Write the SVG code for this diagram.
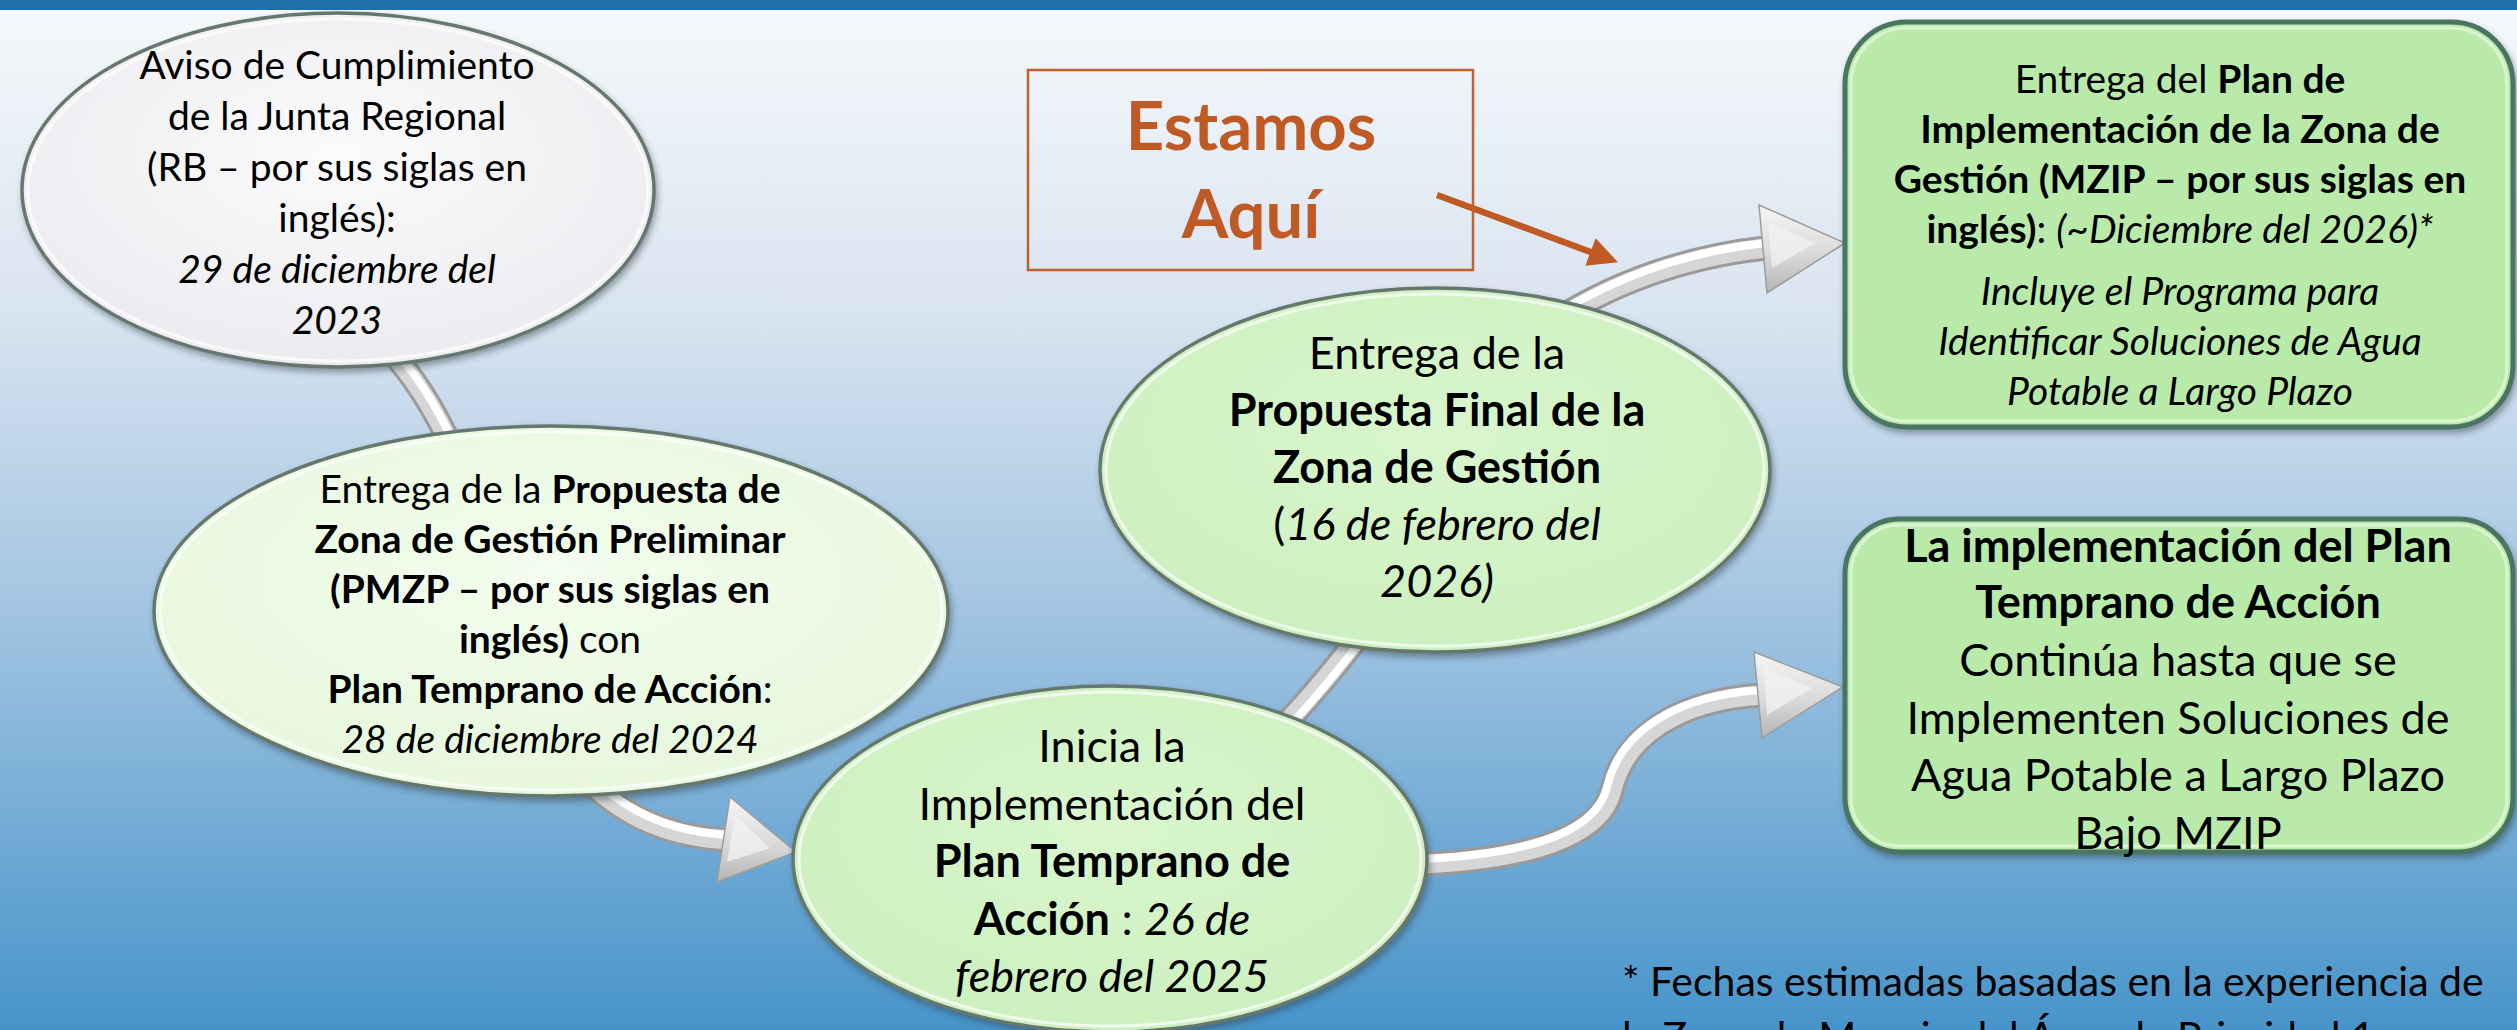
<svg xmlns="http://www.w3.org/2000/svg" width="2517" height="1030" viewBox="0 0 2517 1030">
  <style>
    text { font-family: Lato, "Open Sans", "Liberation Sans", sans-serif; fill: #000; text-anchor: middle; }
    .b { font-weight: bold; }
    .i { font-style: italic; }
    .s39 { font-size: 39px; }
    .s45 { font-size: 45px; }
    .tube-o { fill: none; stroke: #9a9a9a; stroke-width: 25; stroke-linecap: butt; }
    .tube-m { fill: none; stroke: #d6d6d6; stroke-width: 19; stroke-linecap: butt; }
    .tube-h { fill: none; stroke: #ffffff; stroke-width: 8; stroke-linecap: butt; }
    .head { fill: url(#headGrad); stroke: #9c9c9c; stroke-width: 1.5; }
    .head-in { fill: #f1f1f1; opacity: 0.8; }
    .ell { stroke: #66776f; stroke-width: 3.5; filter: url(#shadow); }
    .ell-hl { fill: none; stroke: #ffffff; stroke-width: 3; opacity: 0.7; }
    .box { fill: #b9eaa9; stroke: #4b7463; stroke-width: 5; filter: url(#shadow); }
    .box-hl { fill: none; stroke: #e2f8da; stroke-width: 3; opacity: 0.8; }
    .here { fill: #bf5a24; font-size: 67px; }
    .note { font-size: 41px; text-anchor: start; }
  </style>
  <defs>
    <linearGradient id="bg" x1="0" y1="10" x2="0" y2="1030" gradientUnits="userSpaceOnUse">
      <stop offset="0" stop-color="#f5f8fb"/>
      <stop offset="0.3" stop-color="#d8e4f0"/>
      <stop offset="0.6" stop-color="#a0c3e1"/>
      <stop offset="1" stop-color="#4794ca"/>
    </linearGradient>
    <radialGradient id="gA" cx="0.5" cy="0.4" r="0.6">
      <stop offset="0" stop-color="#fbfafc"/>
      <stop offset="1" stop-color="#ecebef"/>
    </radialGradient>
    <radialGradient id="gB" cx="0.5" cy="0.4" r="0.6">
      <stop offset="0" stop-color="#f3fdee"/>
      <stop offset="1" stop-color="#e6f8dc"/>
    </radialGradient>
    <radialGradient id="gC" cx="0.5" cy="0.4" r="0.6">
      <stop offset="0" stop-color="#d9f6cd"/>
      <stop offset="1" stop-color="#cdf0bf"/>
    </radialGradient>
    <linearGradient id="headGrad" x1="0" y1="0" x2="0" y2="1">
      <stop offset="0" stop-color="#f6f6f6"/>
      <stop offset="0.55" stop-color="#dadada"/>
      <stop offset="1" stop-color="#b5b5b5"/>
    </linearGradient>
    <filter id="shadow" x="-10%" y="-10%" width="120%" height="125%">
      <feDropShadow dx="2" dy="4" stdDeviation="3" flood-color="#2a3a40" flood-opacity="0.45"/>
    </filter>
    <marker id="orangeHead" viewBox="0 0 10 10" refX="2" refY="5" markerWidth="5" markerHeight="4.5" orient="auto" markerUnits="strokeWidth">
      <path d="M0,0 L10,5 L0,10 z" fill="#bf5a24"/>
    </marker>
  </defs>

  <!-- background -->
  <rect x="0" y="0" width="2517" height="1030" fill="url(#bg)"/>
  <rect x="0" y="0" width="2517" height="10" fill="#1f70a9"/>

  <!-- connectors -->
  <g id="connectors">
    <g id="c-A-B">
      <path class="tube-o" d="M380,340 Q425,385 455,455"/>
      <path class="tube-m" d="M380,340 Q425,385 455,455"/>
      <path class="tube-h" d="M383,338 Q428,383 458,453"/>
    </g>
    <g id="c-B-C">
      <path class="tube-o" d="M570,760 Q630,838 735,840"/>
      <path class="tube-m" d="M570,760 Q630,838 735,840"/>
      <path class="tube-h" d="M574,757 Q634,833 735,835"/>
      <polygon class="head" points="730,797 796,852 717,882"/>
      <polygon class="head-in" points="735,815 770,848 727,862"/>
    </g>
    <g id="c-C-D">
      <path class="tube-o" d="M1265,745 Q1320,690 1375,615"/>
      <path class="tube-m" d="M1265,745 Q1320,690 1375,615"/>
      <path class="tube-h" d="M1268,748 Q1323,693 1378,618"/>
    </g>
    <g id="c-D-E">
      <path class="tube-o" d="M1540,330 Q1640,262 1765,248"/>
      <path class="tube-m" d="M1540,330 Q1640,262 1765,248"/>
      <path class="tube-h" d="M1540,325 Q1640,257 1765,243"/>
      <polygon class="head" points="1759,205 1845,243 1767,293"/>
      <polygon class="head-in" points="1768,222 1815,243 1772,268"/>
    </g>
    <g id="c-C-F">
      <path class="tube-o" d="M1400,865 C1520,862 1600,840 1612,790 C1625,735 1680,700 1762,695"/>
      <path class="tube-m" d="M1400,865 C1520,862 1600,840 1612,790 C1625,735 1680,700 1762,695"/>
      <path class="tube-h" d="M1400,860 C1518,857 1595,836 1607,787 C1620,731 1677,695 1762,690"/>
      <polygon class="head" points="1754,652 1843,687 1762,738"/>
      <polygon class="head-in" points="1764,668 1812,688 1767,715"/>
    </g>
    <g id="c-here">
      <line x1="1437" y1="195" x2="1596" y2="254" stroke="#bf5a24" stroke-width="6.5" marker-end="url(#orangeHead)"/>
    </g>
  </g>

  <!-- node A -->
  <g id="node-aviso">
    <ellipse class="ell" cx="338" cy="190" rx="316" ry="177" fill="url(#gA)" stroke="#7d7d83"/>
    <ellipse class="ell-hl" cx="338" cy="190" rx="310" ry="171"/>
    <text class="s39" x="337" y="79">Aviso de Cumplimiento</text>
    <text class="s39" x="337" y="130">de la Junta Regional</text>
    <text class="s39" x="337" y="181">(RB – por sus siglas en</text>
    <text class="s39" x="337" y="232">inglés):</text>
    <text class="s39 i" x="337" y="283">29 de diciembre del</text>
    <text class="s39 i" x="337" y="334">2023</text>
  </g>

  <!-- node B -->
  <g id="node-pmzp">
    <ellipse class="ell" cx="551" cy="611" rx="397" ry="185" fill="url(#gB)"/>
    <ellipse class="ell-hl" cx="551" cy="611" rx="391" ry="179"/>
    <text class="s39" x="550" y="503">Entrega de la <tspan class="b">Propuesta de</tspan></text>
    <text class="s39 b" x="550" y="553">Zona de Gestión Preliminar</text>
    <text class="s39 b" x="550" y="603">(PMZP – por sus siglas en</text>
    <text class="s39" x="550" y="653"><tspan class="b">inglés)</tspan> con</text>
    <text class="s39" x="550" y="703"><tspan class="b">Plan Temprano de Acción</tspan>:</text>
    <text class="s39 i" x="550" y="753">28 de diciembre del 2024</text>
  </g>

  <!-- node C -->
  <g id="node-inicia">
    <ellipse class="ell" cx="1110" cy="859" rx="317" ry="173" fill="url(#gC)"/>
    <ellipse class="ell-hl" cx="1110" cy="859" rx="311" ry="167"/>
    <text class="s45" x="1112" y="762">Inicia la</text>
    <text class="s45" x="1112" y="820">Implementación del</text>
    <text class="s45 b" x="1112" y="877">Plan Temprano de</text>
    <text class="s45" x="1112" y="935"><tspan class="b">Acción</tspan> : <tspan class="i">26 de</tspan></text>
    <text class="s45 i" x="1112" y="992">febrero del 2025</text>
  </g>

  <!-- node D -->
  <g id="node-final">
    <ellipse class="ell" cx="1435" cy="470" rx="335" ry="182" fill="url(#gC)"/>
    <ellipse class="ell-hl" cx="1435" cy="470" rx="329" ry="176"/>
    <text class="s45" x="1437" y="369">Entrega de la</text>
    <text class="s45 b" x="1437" y="426">Propuesta Final de la</text>
    <text class="s45 b" x="1437" y="483">Zona de Gestión</text>
    <text class="s45" x="1437" y="540">(<tspan class="i">16 de febrero del</tspan></text>
    <text class="s45 i" x="1437" y="597">2026)</text>
  </g>

  <!-- node E -->
  <g id="node-mzip">
    <rect class="box" x="1845" y="22" width="668" height="405" rx="62" ry="62"/>
    <rect class="box-hl" x="1851" y="28" width="656" height="393" rx="56" ry="56"/>
    <text class="s39" x="2180" y="93">Entrega del <tspan class="b">Plan de</tspan></text>
    <text class="s39 b" x="2180" y="143">Implementación de la Zona de</text>
    <text class="s39 b" x="2180" y="193">Gestión (MZIP – por sus siglas en</text>
    <text class="s39" x="2180" y="243"><tspan class="b">inglés)</tspan>: <tspan class="i">(~Diciembre del 2026)*</tspan></text>
    <text class="s39 i" x="2180" y="305">Incluye el Programa para</text>
    <text class="s39 i" x="2180" y="355">Identificar Soluciones de Agua</text>
    <text class="s39 i" x="2180" y="405">Potable a Largo Plazo</text>
  </g>

  <!-- node F -->
  <g id="node-implementacion">
    <rect class="box" x="1845" y="519" width="668" height="333" rx="55" ry="55"/>
    <rect class="box-hl" x="1851" y="525" width="656" height="321" rx="49" ry="49"/>
    <text class="s45 b" x="2178" y="562">La implementación del Plan</text>
    <text class="s45 b" x="2178" y="618">Temprano de Acción</text>
    <text class="s45" x="2178" y="676">Continúa hasta que se</text>
    <text class="s45" x="2178" y="734">Implementen Soluciones de</text>
    <text class="s45" x="2178" y="791">Agua Potable a Largo Plazo</text>
    <text class="s45" x="2178" y="849">Bajo MZIP</text>
  </g>

  <!-- Estamos Aquí -->
  <g id="node-estamos">
    <rect x="1028" y="70" width="445" height="200" fill="none" stroke="#c0602b" stroke-width="2.5"/>
    <text class="b here" x="1251" y="150">Estamos</text>
    <text class="b here" x="1251" y="238">Aquí</text>
  </g>

  <!-- footnote -->
  <g id="footnote">
    <text class="note" x="1622" y="996">* Fechas estimadas basadas en la experiencia de</text>
    <text class="note" x="1622" y="1051">la Zona de Manejo del Área de Prioridad 1</text>
  </g>
</svg>
